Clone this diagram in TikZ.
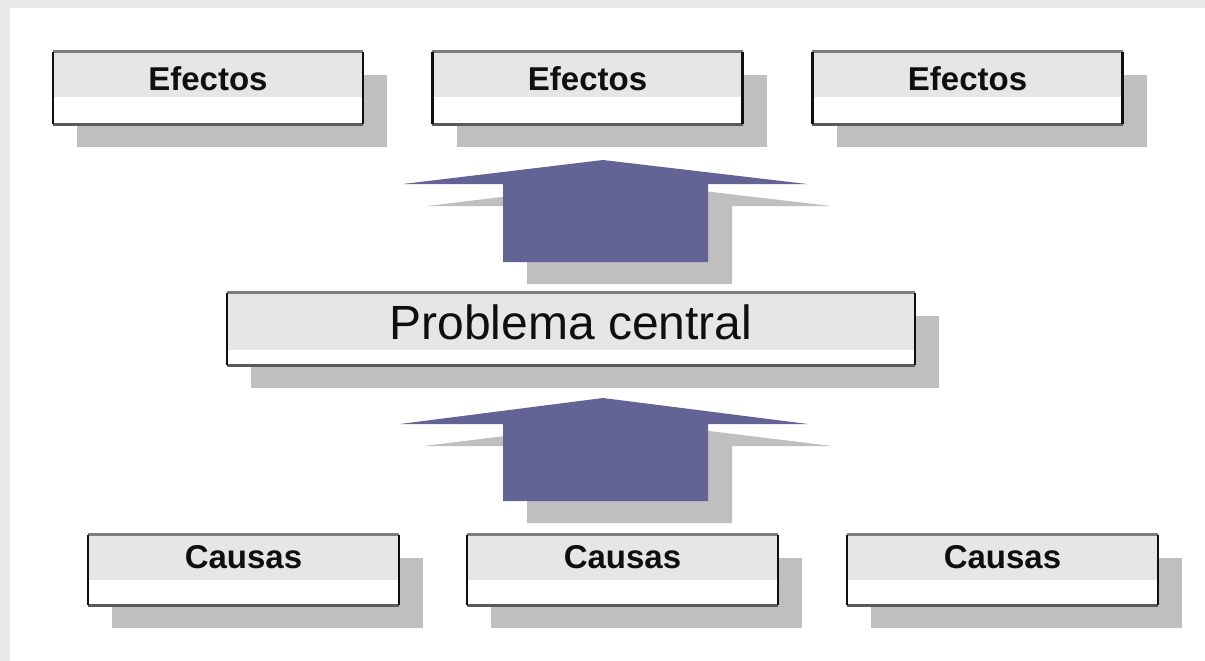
\documentclass[tikz,border=0pt]{standalone}
\usepackage{fontspec}
\setmainfont{Liberation Sans}
\usetikzlibrary{shadows}
\definecolor{arrowblue}{RGB}{99,99,150}
\definecolor{shadowgray}{RGB}{191,191,191}
\definecolor{boxfill}{RGB}{230,230,230}
\definecolor{edgegray}{RGB}{125,125,125}
\definecolor{edgedark}{RGB}{90,90,90}
\definecolor{edgeblack}{RGB}{15,15,15}
\definecolor{framegray}{RGB}{233,233,233}
\definecolor{textblack}{RGB}{15,15,15}
\newcommand{\boxedges}[1]{%
  \draw[edgegray,line width=3pt] (#1.north west) -- (#1.north east);
  \draw[edgedark,line width=3pt] (#1.south west) -- (#1.south east);
  \draw[edgeblack,line width=2.5pt] (#1.north west) -- (#1.south west);
  \draw[edgeblack,line width=2.5pt] (#1.north east) -- (#1.south east);
}
\tikzset{
  panel/.style={rectangle, inner sep=0pt, fill=white,
    drop shadow={shadow xshift=24pt, shadow yshift=-23pt, fill=shadowgray, opacity=1},
    path picture={\fill[boxfill] (path picture bounding box.north west) rectangle ([yshift=-#1]path picture bounding box.north east);}},
  smalllabel/.style={anchor=base, font=\bfseries\fontsize{33}{36}\selectfont, text=textblack, inner sep=0pt},
  biglabel/.style={anchor=base, font=\fontsize{48}{52}\selectfont, text=textblack, inner sep=0pt},
  bigarrow/.style={fill=arrowblue},
  arrowshadow/.style={fill=shadowgray}
}
\begin{document}
\begin{tikzpicture}[x=1pt,y=-1pt]
\useasboundingbox (0,0) rectangle (1205,661);
\fill[white] (0,0) rectangle (1205,661);
\fill[framegray] (0,0) rectangle (1205,8);
\fill[framegray] (0,0) rectangle (10,661);

% Effects row
\node[panel=45pt, minimum width=310pt, minimum height=72pt] (e1) at (208,88) {};
\node[panel=45pt, minimum width=310pt, minimum height=72pt] (e2) at (587.5,88) {};
\node[panel=45pt, minimum width=310pt, minimum height=72pt] (e3) at (967.5,88) {};
\boxedges{e1}\boxedges{e2}\boxedges{e3}
\node[smalllabel] (e1t) at (208,90) {Efectos};
\node[smalllabel] (e2t) at (587.5,90) {Efectos};
\node[smalllabel] (e3t) at (967.5,90) {Efectos};

% Upper arrow
\fill[arrowshadow] (527,284) -- (527,206) -- (427,206) -- (627,182) -- (831,206) -- (732,206) -- (732,284) -- cycle;
\fill[bigarrow] (503,262) -- (503,184) -- (403,184) -- (603,160) -- (807,184) -- (708,184) -- (708,262) -- cycle;

% Central problem
\node[panel=57pt, minimum width=688pt, minimum height=72pt] (p) at (571,329) {};
\boxedges{p}
\node[biglabel] (pt) at (571,339) {Problema central};

% Lower arrow
\fill[arrowshadow] (527,523) -- (527,446) -- (424,446) -- (627,421) -- (832,446) -- (732,446) -- (732,523) -- cycle;
\fill[bigarrow] (503,501) -- (503,424) -- (400,424) -- (603,398) -- (808,424) -- (708,424) -- (708,501) -- cycle;

% Causes row
\node[panel=45pt, minimum width=311pt, minimum height=70pt] (c1) at (243.5,570) {};
\node[panel=45pt, minimum width=311pt, minimum height=70pt] (c2) at (622.5,570) {};
\node[panel=45pt, minimum width=311pt, minimum height=70pt] (c3) at (1002.5,570) {};
\boxedges{c1}\boxedges{c2}\boxedges{c3}
\node[smalllabel] (c1t) at (243.5,568) {Causas};
\node[smalllabel] (c2t) at (622.5,568) {Causas};
\node[smalllabel] (c3t) at (1002.5,568) {Causas};
\end{tikzpicture}
\end{document}
